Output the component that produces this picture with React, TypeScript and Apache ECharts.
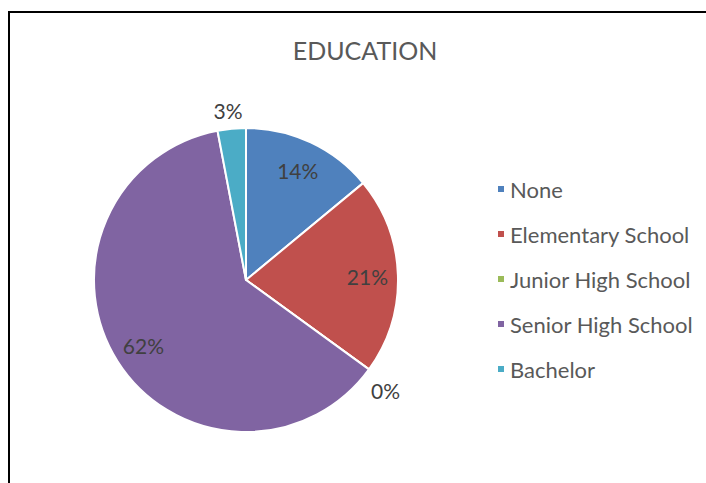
import React, { useEffect, useRef } from "react";
import * as echarts from "echarts";

const categories = ["None", "Elementary School", "Junior High School", "Senior High School", "Bachelor"];
const values = [14, 21, 0, 62, 3];
const colors = ["#4F81BD", "#C0504D", "#9BBB59", "#8064A2", "#4BACC6"];
const outsideLabels = [false, false, true, false, true];
const titleText = "EDUCATION";

export default function App() {
  const ref = useRef<HTMLDivElement>(null);
  useEffect(() => {
    if (!ref.current) return;
    const chart = echarts.init(ref.current, undefined, { renderer: "svg" });
    const total = values.reduce((a, b) => a + b, 0);
    const font = "Lato";
    const textColor = "#595959";
    const data = categories.map((name, i) => ({ name, value: values[i], itemStyle: { color: colors[i] } }));
    const labelData = categories.map((name, i) => ({
      name,
      value: values[i],
      label: outsideLabels[i]
        ? { show: true, position: "outside", distanceToLabelLine: 2 }
        : { show: true, position: "inside" },
    }));
    chart.setOption({
      animation: false,
      backgroundColor: "#ffffff",
      title: {
        text: titleText,
        left: 360,
        top: 32,
        textAlign: "center",
        textStyle: { fontFamily: font, fontSize: 25, fontWeight: "normal", color: textColor },
      },
      legend: {
        orient: "vertical",
        left: 491,
        top: 173,
        itemWidth: 8,
        itemHeight: 8,
        itemGap: 23,
        icon: "rect",
        data: categories,
        textStyle: { fontFamily: font, fontSize: 22, color: textColor },
      },
      graphic: [
        {
          type: "rect",
          shape: { x: 9, y: 12, width: 900, height: 700 },
          style: { fill: "none", stroke: "#000", lineWidth: 2 },
          silent: true,
          z: 100,
        },
      ],
      series: [
        {
          type: "pie",
          center: [246, 280],
          radius: [0, 152],
          startAngle: 90,
          clockwise: true,
          avoidLabelOverlap: false,
          label: { show: false },
          labelLine: { show: false },
          itemStyle: { borderColor: "#ffffff", borderWidth: 2 },
          emphasis: { disabled: true },
          data,
        },
        {
          type: "pie",
          name: "labels",
          center: [246, 280],
          radius: [85, 152],
          startAngle: 90,
          clockwise: true,
          avoidLabelOverlap: false,
          silent: true,
          itemStyle: { color: "rgba(0,0,0,0)", borderWidth: 0 },
          emphasis: { disabled: true },
          label: {
            fontFamily: font,
            fontSize: 21,
            color: "#404040",
            formatter: (p: any) => Math.round((p.value / total) * 100) + "%",
          },
          labelLine: { show: false, length: 18, length2: 0 },
          labelLayout: (p: any) => {
            if (p.seriesIndex !== 1) return {};
            if (p.dataIndex === 4) return { align: "center", verticalAlign: "middle" };
            if (p.dataIndex === 2) return { align: "center", verticalAlign: "top" };
            return {};
          },
          data: labelData,
        },
      ],
    });
    return () => chart.dispose();
  }, []);
  return (
    <div
      ref={ref}
      style={{ position: "absolute", left: 0, top: 0, width: 706, height: 483 }}
    />
  );
}
